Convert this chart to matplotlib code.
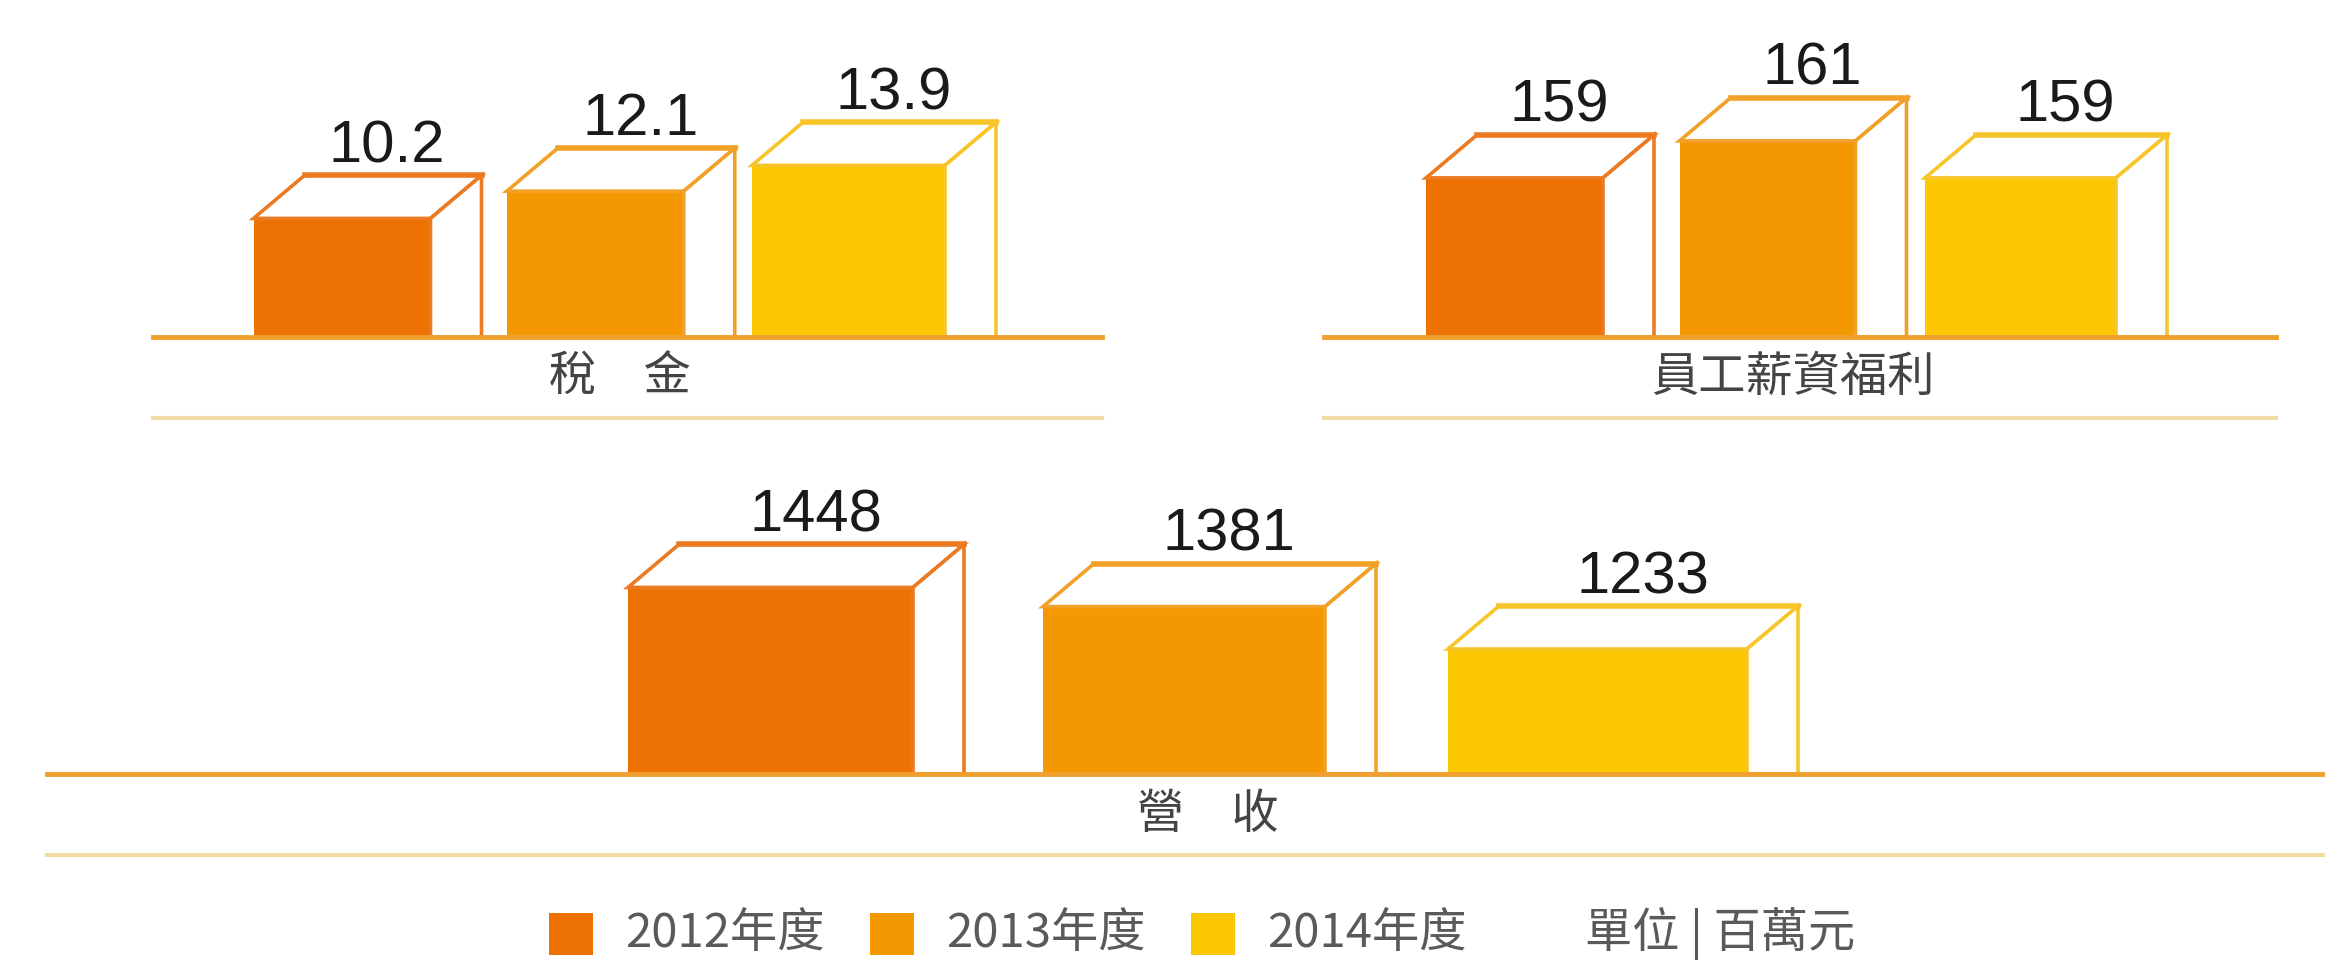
import numpy as np
import matplotlib.pyplot as plt
from matplotlib.patches import Polygon, Rectangle

plt.rcParams['font.family'] = ['Noto Sans CJK TC', 'DejaVu Sans']

# data
years = ['2012年度', '2013年度', '2014年度']
tax = [10.2, 12.1, 13.9]
salary = [159, 161, 159]
revenue = [1448, 1381, 1233]
panel_names = ['稅　金', '員工薪資福利', '營　收']
unit_text = '單位 | 百萬元'

# styles
fills = ['#EE7203', '#F39800', '#FAC700']
edges = ['#EB7A22', '#F1A028', '#F7C52A']
line_col = '#F0A02E'
line2_col = '#F3DBA6'
DX, DY = 51, 43          # box depth in pixels

W, H = 2325, 961
fig = plt.figure(figsize=(W / 100, H / 100), dpi=100)
fig.patch.set_facecolor('white')


def panel(values, name, left, right, base, top, c0, step, v0, slope, widths, name_x):
    h = base - top
    ax = fig.add_axes([left / W, 1 - base / H, (right - left) / W, h / H])
    ax.set_xlim(-(c0 - left) / step, (right - c0) / step)
    ax.set_ylim(v0, v0 + h / slope)
    ax.axis('off')
    ddx = DX / step
    ddy = DY / slope
    for i, v in enumerate(values):
        w = widths[i] / step
        xl, xr = i - w / 2, i + w / 2
        ax.bar(i, v - v0, width=w, bottom=v0, color=fills[i], lw=0, zorder=2)
        top_face = Polygon([(xl, v), (xl + ddx, v + ddy), (xr + ddx, v + ddy), (xr, v)],
                           closed=True, fc='white', ec=edges[i], lw=2.6, zorder=3,
                           joinstyle='miter')
        side_face = Polygon([(xr, v), (xr + ddx, v + ddy), (xr + ddx, v0), (xr, v0)],
                            closed=True, fc='white', ec=edges[i], lw=2.6, zorder=3,
                            joinstyle='miter')
        ax.add_patch(top_face)
        ax.add_patch(side_face)
        ax.plot([xl + ddx, xr + ddx], [v + ddy, v + ddy], color=edges[i], lw=4,
                zorder=3, solid_capstyle='projecting')
        ax.annotate(f'{v:g}', xy=(i, v), xytext=(45 * 0.72, (DY + 13) * 0.72),
                    textcoords='offset points', ha='center', va='baseline',
                    fontsize=43, family='Liberation Sans', color='#1a1a1a',
                    annotation_clip=False)
    ax.axhline(v0, color=line_col, lw=3.5, zorder=4, clip_on=False)
    ax.plot([0, 1], [-81 / h, -81 / h], transform=ax.transAxes, color=line2_col,
            lw=3, clip_on=False)
    ax.text(name_x, -41 / h, name, transform=ax.transAxes, ha='center', va='center',
            fontsize=34, color='#444444')
    return ax


panel(tax, panel_names[0], 153, 1102, 337, 0, 342, 253.25, 1.93, 14.34,
      [177, 177, 193], 0.492)
panel(salary, panel_names[1], 1324, 2276, 337, 0, 1514.5, 253, 150.4, 18.5,
      [177, 176, 191], 0.4926)
panel(revenue, panel_names[2], 47, 2325, 774, 450, 770.5, 413.5, 796.7, 0.2865,
      [285, 282, 299], 0.5097)

# legend
for k, lab in enumerate(years):
    x0 = 549 + k * 321
    fig.patches.append(Rectangle((x0 / W, 1 - 955 / H), 44 / W, 42 / H,
                                 transform=fig.transFigure, fc=fills[k], lw=0))
    fig.text((x0 + 76) / W, 1 - 934 / H, lab, ha='left', va='center',
             fontsize=34, color='#5a5a5a')
fig.text(1585 / W, 1 - 934 / H, unit_text, ha='left', va='center',
         fontsize=34, color='#5a5a5a')

fig.savefig('out.png', dpi=100, facecolor='white')
